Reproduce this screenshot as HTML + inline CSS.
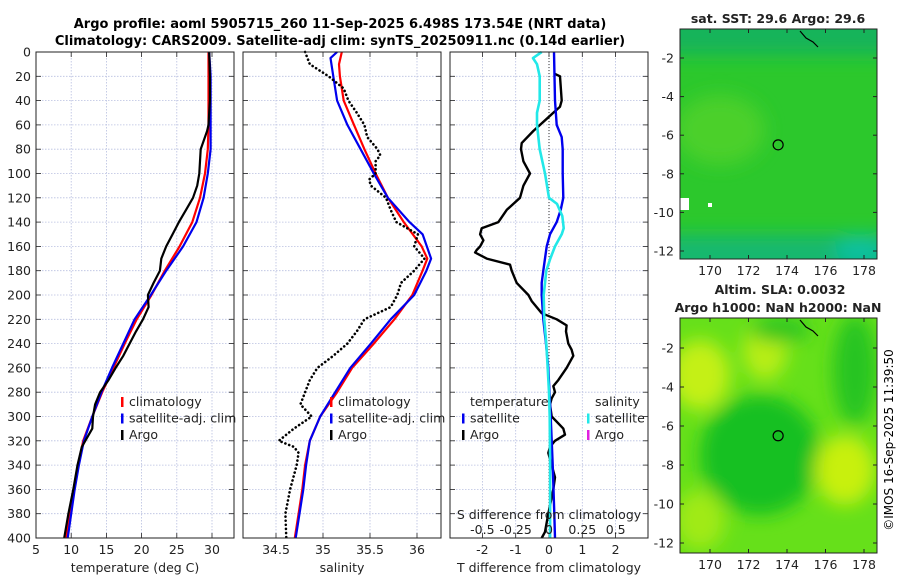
<!DOCTYPE html>
<html><head><meta charset="utf-8"><style>
html,body{margin:0;padding:0;background:#fff;}
svg{display:block;font-family:"DejaVu Sans","Liberation Sans",sans-serif;}
</style></head><body>
<svg id="chart" width="900" height="580" viewBox="0 0 900 580">
<defs>
<filter id="blur8" x="-50%" y="-50%" width="200%" height="200%"><feGaussianBlur stdDeviation="9"/></filter>
<clipPath id="clipTop"><rect x="680" y="29" width="197" height="230"/></clipPath>
<clipPath id="clipBot"><rect x="680" y="318" width="197" height="235"/></clipPath>
</defs>
<text x="340" y="28" text-anchor="middle" font-size="13" font-weight="bold">Argo profile: aoml 5905715_260 11-Sep-2025 6.498S 173.54E (NRT data)</text>
<text x="340" y="45" text-anchor="middle" font-size="13" font-weight="bold">Climatology: CARS2009. Satellite-adj clim: synTS_20250911.nc (0.14d earlier)</text>
<g id="panels"></g>
<g id="maps"></g>
<text transform="translate(893,440) rotate(-90)" text-anchor="middle" font-size="12">©IMOS 16-Sep-2025 11:39:50</text>
</svg>
<script>
// ---------- data ----------
const depthTicks=[0,20,40,60,80,100,120,140,160,180,200,220,240,260,280,300,320,340,360,380,400];
const tempTicks=[5,10,15,20,25,30];
const salTicks=[34.5,35,35.5,36];
const dTTicks=[-2,-1,0,1,2];
const dSTicks=[-0.5,-0.25,0,0.25,0.5];
const dSTickLabels=["-0.5","-0.25","0","0.25","0.5"];

const tClimDepth=[0,60,80,100,120,140,160,180,200,220,240,260,280,300,320,340,360,380,400];
const tClimVal=[29.5,29.5,29.4,29.0,28.3,27.2,25.4,23.3,21.4,19.3,17.6,16.0,14.4,13.0,11.7,11.0,10.4,9.8,9.3];
const tSatDepth=[0,20,60,80,100,120,140,160,180,200,220,240,260,280,300,320,340,360,380,400];
const tSatVal=[29.6,29.8,29.8,29.8,29.4,28.8,27.8,25.9,23.5,21.3,19.0,17.4,15.8,14.3,13.0,11.8,11.1,10.5,10.0,9.5];
const tArgoDepth=[0,20,40,60,65,80,100,110,120,130,140,150,160,170,180,190,200,210,220,230,240,250,260,270,280,290,300,310,320,325,340,360,380,400];
const tArgoVal=[29.6,29.7,29.7,29.5,29.3,28.4,28.2,27.9,27.3,26.3,25.3,24.4,23.5,22.8,22.6,21.7,20.9,21.0,20.2,19.2,18.3,17.4,16.3,15.3,14.1,13.4,13.1,13.0,12.0,11.5,10.9,10.3,9.6,9.0];

const sClimDepth=[0,10,20,40,60,80,100,120,140,160,170,180,200,220,240,260,280,300,320,340,360,380,400];
const sClimVal=[35.20,35.17,35.18,35.22,35.33,35.44,35.56,35.69,35.86,36.05,36.11,36.06,35.95,35.76,35.54,35.31,35.15,34.97,34.86,34.81,34.78,34.74,34.70];
const sSatDepth=[0,5,20,40,60,80,100,120,140,150,170,180,200,220,240,260,280,300,320,340,360,380,400];
const sSatVal=[35.15,35.08,35.11,35.15,35.26,35.40,35.54,35.69,35.92,36.06,36.15,36.10,35.97,35.72,35.51,35.29,35.13,34.97,34.86,34.82,34.79,34.75,34.71];
const sArgoDepth=[0,10,20,30,40,50,60,70,80,85,90,100,105,110,120,130,140,150,160,170,180,190,200,210,215,220,230,240,250,260,270,280,290,300,310,320,325,330,340,360,380,400];
const sArgoVal=[34.81,34.86,35.06,35.22,35.27,35.36,35.44,35.47,35.58,35.61,35.56,35.56,35.49,35.51,35.67,35.72,35.78,36.01,35.97,36.08,35.97,35.83,35.79,35.72,35.58,35.44,35.36,35.26,35.11,34.94,34.86,34.81,34.76,34.88,34.69,34.53,34.69,34.74,34.72,34.65,34.60,34.61];

const dTArgoDepth=[18,20,40,45,50,55,65,75,80,90,100,110,120,130,140,145,150,155,160,163,165,170,175,180,190,200,205,215,220,225,230,240,245,250,260,270,275,280,285,290,300,310,315,320,325,330,340,350,360,380,395,400];
const dTArgoVal=[0.18,0.33,0.38,0.33,0.13,-0.07,-0.47,-0.82,-0.84,-0.77,-0.57,-0.77,-0.87,-1.27,-1.52,-2.02,-2.07,-1.97,-2.07,-2.17,-2.22,-1.87,-1.17,-1.12,-0.97,-0.62,-0.52,-0.22,0.23,0.53,0.51,0.58,0.68,0.73,0.53,0.28,0.13,0.18,0.08,0.03,0.08,0.43,0.48,0.18,0.03,-0.02,0.08,0.18,0.13,-0.02,-0.12,-0.22];
const dTSatDepth=[0,40,60,70,80,100,120,130,140,150,160,180,190,200,220,240,260,300,340,380,400];
const dTSatVal=[0.15,0.18,0.23,0.38,0.41,0.41,0.43,0.35,0.23,0.03,-0.07,-0.17,-0.22,-0.22,-0.17,-0.09,-0.02,0.05,0.11,0.16,0.18];
const dSSatDepth=[0,5,10,20,40,50,60,80,100,120,125,135,145,150,160,170,180,200,220,240,260,280,300,340,400];
const dSSatVal=[-0.055,-0.12,-0.09,-0.07,-0.07,-0.09,-0.09,-0.07,-0.03,0.0,0.06,0.10,0.11,0.095,0.045,0.01,-0.02,-0.04,-0.035,-0.02,-0.01,0.0,0.005,0.008,0.008];

const latTicks=[-2,-4,-6,-8,-10,-12];
const lonTicks=[170,172,174,176,178];
const argoLon=173.54, argoLat=-6.5;

// ---------- helpers ----------
const NS="http://www.w3.org/2000/svg";
const svg=document.getElementById('chart');
const gP=document.getElementById('panels');
const gM=document.getElementById('maps');
function mk(tag,attrs,parent){const e=document.createElementNS(NS,tag);for(const k in attrs)e.setAttribute(k,attrs[k]);(parent||gP).appendChild(e);return e;}
const Y0=52,Y1=538;
const yD=d=>Y0+d*(Y1-Y0)/400;
const xT=t=>36+(t-5)*7.04;
const xS=s=>276+(s-34.5)*94;
const xDT=v=>549+v*33.3;
const xDS=v=>549+v*133.3;

function grid(x0,x1,xs){
  for(const d of depthTicks){const l=mk('line',{x1:x0,x2:x1,y1:yD(d),y2:yD(d),stroke:'#b8bfe0','stroke-width':0.8,'stroke-dasharray':'1.5,1.5'});
    
    mk('line',{x1:x0,x2:x0+5,y1:yD(d),y2:yD(d),stroke:'#222','stroke-width':0.8});
    mk('line',{x1:x1-5,x2:x1,y1:yD(d),y2:yD(d),stroke:'#222','stroke-width':0.8});}
  for(const x of xs){const l=mk('line',{x1:x,x2:x,y1:Y0,y2:Y1,stroke:'#b8bfe0','stroke-width':0.8,'stroke-dasharray':'1.5,1.5'});
    
    mk('line',{x1:x,x2:x,y1:Y1-5,y2:Y1,stroke:'#222','stroke-width':0.8});
    mk('line',{x1:x,x2:x,y1:Y0,y2:Y0+5,stroke:'#222','stroke-width':0.8});}
}
function box(x0,x1,name){const r=mk('rect',{x:x0,y:Y0,width:x1-x0,height:Y1-Y0,fill:'none',stroke:'#222','stroke-width':1});
  }
function line(ds,vs,xf,color,w,name,dash){
  const pts=ds.map((d,i)=>xf(vs[i]).toFixed(1)+','+yD(d).toFixed(1)).join(' ');
  const a={points:pts,fill:'none',stroke:color,'stroke-width':w,'stroke-linejoin':'round'};
  if(dash){a['stroke-dasharray']=dash;a['stroke-linecap']='round';}
  const p=mk('polyline',a);
  return p;}
function txt(x,y,s,anchor,name,size,parent){const t=mk('text',{x:x,y:y,'text-anchor':anchor||'middle','font-size':size||12.5,fill:'#222'},parent);t.textContent=s;
  return t;}

// ---------- panel 1: temperature ----------
grid(36,234,tempTicks.map(xT));
line(tClimDepth,tClimVal,xT,'#f00',2.2,'temp-climatology-line');
line(tSatDepth,tSatVal,xT,'#0000ee',2.2,'temp-satellite-line');
line(tArgoDepth,tArgoVal,xT,'#000',2.2,'temp-argo-line');
box(36,234,'temperature-axes');
for(const d of depthTicks) txt(31,yD(d)+4.5,String(d),'end','depth-tick-label');
for(const t of tempTicks) txt(xT(t),554,String(t),'middle','temp-tick-label');
txt(135,572,'temperature (deg C)','middle','temp-axis-title');
function legend(x,y,items,panel){
  items.forEach((it,i)=>{const yy=y+i*16.5;
    const m=mk('rect',{x:x,y:yy-9,width:2.5,height:10,fill:it[1]});
    
    txt(x+8,yy,it[0],'start','legend-entry-'+panel);});
}
legend(121,406,[['climatology','#f00'],['satellite-adj. clim','#0000ee'],['Argo','#000']],'temp');

// ---------- panel 2: salinity ----------
grid(243,441,salTicks.map(xS));
line(sClimDepth,sClimVal,xS,'#f00',2.2,'sal-climatology-line');
line(sSatDepth,sSatVal,xS,'#0000ee',2.2,'sal-satellite-line');
line(sArgoDepth,sArgoVal,xS,'#000',2.6,'sal-argo-line','0.1,4');
box(243,441,'salinity-axes');
for(const s of salTicks) txt(xS(s),554,String(s),'middle','sal-tick-label');
txt(342,572,'salinity','middle','sal-axis-title');
legend(330,406,[['climatology','#f00'],['satellite-adj. clim','#0000ee'],['Argo','#000']],'sal');

// ---------- panel 3: differences ----------
grid(450,648,dTTicks.map(xDT));
const z=mk('line',{x1:549,x2:549,y1:Y0,y2:Y1,stroke:'#333','stroke-width':1,'stroke-dasharray':'1,2'});

line(dTArgoDepth,dTArgoVal,xDT,'#000',2.4,'diff-temp-argo-line');
line(dTSatDepth,dTSatVal,xDT,'#0000ee',2.4,'diff-temp-satellite-line');
line(dSSatDepth,dSSatVal,xDS,'#22e8e8',2.6,'diff-sal-satellite-line');
box(450,648,'difference-axes');
for(const v of dTTicks) txt(xDT(v),554,String(v),'middle','diff-temp-tick-label');
txt(549,572,'T difference from climatology','middle','diff-temp-axis-title');
dSTicks.forEach((v,i)=>txt(xDS(v),534,dSTickLabels[i],'middle','diff-sal-tick-label'));
txt(549,519,'S difference from climatology','middle','diff-sal-axis-title');
txt(470,406,'temperature','start','legend-title-temperature');
txt(595,406,'salinity','start','legend-title-salinity');
legend(462,422.5,[['satellite','#0000ee'],['Argo','#000']],'diff-temp');
legend(587,422.5,[['satellite','#22e8e8'],['Argo','#e020e0']],'diff-sal');

// ---------- maps ----------
function mapAxes(top,bot,name,latY0,latStep){
  const lonX=l=>710+(l-170)*19.25;
  for(const la of latTicks){const y=latY0+(-2-la)*latStep;
    mk('line',{x1:680,x2:684,y1:y,y2:y,stroke:'#222'},gM);mk('line',{x1:873,x2:877,y1:y,y2:y,stroke:'#222'},gM);
    txt(674,y+4.5,String(la),'end','map-lat-label',12.5,gM);}
  for(const lo of lonTicks){const x=lonX(lo);
    mk('line',{x1:x,x2:x,y1:bot-4,y2:bot,stroke:'#222'},gM);mk('line',{x1:x,x2:x,y1:top,y2:top+4,stroke:'#222'},gM);
    txt(x,bot+16,String(lo),'middle','map-lon-label',12.5,gM);}
  const r=mk('rect',{x:680,y:top,width:197,height:bot-top,fill:'none',stroke:'#222'},gM);
  
  const c=mk('circle',{cx:lonX(argoLon),cy:latY0+(-2-argoLat)*latStep,r:5,fill:'none',stroke:'#000','stroke-width':1.2},gM);
  
  const coast=mk('polyline',{points:`800,${top+2} 806,${top+9} 813,${top+13} 818,${top+18}`,fill:'none',stroke:'#000','stroke-width':1.2},gM);
  
}
// SST map
const gs=mk('g',{'clip-path':'url(#clipTop)'},gM);

mk('rect',{x:680,y:29,width:197,height:230,fill:'#2cc82c'},gs);
const gsb=mk('g',{filter:'url(#blur8)'},gs);
mk('rect',{x:660,y:10,width:240,height:45,fill:'#12b45a'},gsb);
mk('ellipse',{cx:720,cy:130,rx:45,ry:35,fill:'#4cd02a'},gsb);
mk('rect',{x:660,y:235,width:240,height:40,fill:'#18b870'},gsb);
mk('ellipse',{cx:860,cy:250,rx:25,ry:15,fill:'#10c0a0'},gsb);
mk('rect',{x:680,y:198,width:9,height:12,fill:'#fff'},gs);
mk('rect',{x:708,y:203,width:4,height:4,fill:'#fff'},gs);
mapAxes(29,259,'sst-map-axes',58,19.3);
txt(778,23,'sat. SST: 29.6 Argo: 29.6','middle','sst-map-title',12.5,gM).setAttribute('font-weight','bold');
// SLA map
const ga=mk('g',{'clip-path':'url(#clipBot)'},gM);

mk('rect',{x:680,y:318,width:197,height:235,fill:'#66e01a'},ga);
const gab=mk('g',{filter:'url(#blur8)'},ga);
mk('ellipse',{cx:700,cy:375,rx:30,ry:35,fill:'#c4f014'},gab);
mk('ellipse',{cx:765,cy:350,rx:22,ry:30,fill:'#b8ee14'},gab);
mk('ellipse',{cx:760,cy:455,rx:60,ry:60,fill:'#18c020'},gab);
mk('ellipse',{cx:855,cy:370,rx:22,ry:55,fill:'#28c424'},gab);
mk('ellipse',{cx:780,cy:330,rx:30,ry:12,fill:'#28c424'},gab);
mk('ellipse',{cx:845,cy:470,rx:30,ry:35,fill:'#c8f010'},gab);
mk('ellipse',{cx:700,cy:520,rx:25,ry:30,fill:'#a0ea14'},gab);
mapAxes(318,553,'sla-map-axes',348,19.5);
txt(780,294,'Altim. SLA: 0.0032','middle','sla-map-title',12.5,gM).setAttribute('font-weight','bold');
txt(778,312,'Argo h1000: NaN h2000: NaN','middle','sla-map-subtitle',12.5,gM).setAttribute('font-weight','bold');
</script>
</body></html>
